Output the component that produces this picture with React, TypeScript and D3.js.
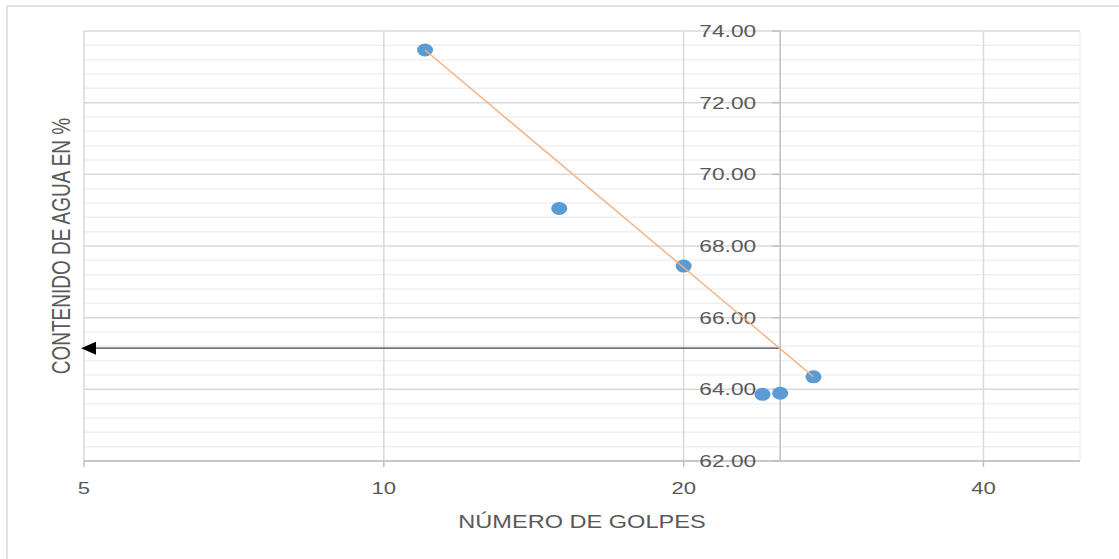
import * as d3 from "d3";

const golpes = [11, 15, 20, 24, 25, 27];
const humedad = [73.47, 69.05, 67.44, 63.86, 63.89, 64.35];
const trendX = [11, 27];
const trendY = [73.47, 64.35];
const xTicks = [5, 10, 20, 40];
const yMajor = [62, 64, 66, 68, 70, 72, 74];
const limiteGolpes = 25;
const limiteHumedad = 65.15;

const W = 1119;
const H = 559;
const TXT = "#595959";
const FONT = "'Liberation Sans', Arial, sans-serif";

export default function App() {
  const x = d3.scaleLog().domain([5, 50]).range([84, 1080]);
  const y = d3.scaleLinear().domain([62, 74]).range([461, 31]);

  const yMinor = d3.range(62, 74.001, 0.4).filter(
    (v) => !yMajor.some((m) => Math.abs(m - v) < 1e-6)
  );

  const pts = golpes.map((g, i) => ({ g, h: humedad[i] }));
  const trend = trendX.map((g, i) => ({ g, h: trendY[i] }));
  const line = d3
    .line<{ g: number; h: number }>()
    .x((d) => x(d.g))
    .y((d) => y(d.h));

  const [x0, x1] = x.range();
  const [yb, yt] = y.range();
  const ax = x(limiteGolpes);

  return (
    <svg
      width={W}
      height={H}
      style={{ position: "absolute", left: 0, top: 0, background: "#fff" }}
      fontFamily={FONT}
    >
      <rect x={7} y={6} width={1130} height={570} fill="#fff" stroke="#d9d9d9" strokeWidth={1.5} />

      {/* minor horizontal grid */}
      {yMinor.map((v) => (
        <line key={"mn" + v} x1={x0} x2={x1} y1={y(v)} y2={y(v)} stroke="#f0f0f0" strokeWidth={1.5} />
      ))}
      {/* major horizontal grid */}
      {yMajor.map((v) => (
        <line key={"mj" + v} x1={x0} x2={x1} y1={y(v)} y2={y(v)} stroke="#d9d9d9" strokeWidth={1.5} />
      ))}
      {/* vertical grid */}
      {xTicks.map((v) => (
        <line key={"vx" + v} x1={x(v)} x2={x(v)} y1={yt} y2={yb} stroke="#d9d9d9" strokeWidth={1.5} />
      ))}
      <line x1={x1} x2={x1} y1={yt} y2={yb} stroke="#f0f0f0" strokeWidth={1.5} />

      {/* x axis */}
      <line x1={x0} x2={x1} y1={yb} y2={yb} stroke="#bfbfbf" strokeWidth={1.5} />
      {xTicks.map((v) => (
        <g key={"xt" + v}>
          <line x1={x(v)} x2={x(v)} y1={yb} y2={yb + 6} stroke="#bfbfbf" strokeWidth={1.5} />
          <text
            transform={`translate(${x(v)},${yb + 33}) scale(1.38,1)`}
            textAnchor="middle"
            fontSize={16}
            fill={TXT}
          >
            {v}
          </text>
        </g>
      ))}

      {/* y axis crossing at x = 25 */}
      <line x1={ax} x2={ax} y1={yt} y2={yb} stroke="#bfbfbf" strokeWidth={1.5} />
      {yMajor.map((v) => (
        <g key={"yt" + v}>
          <line x1={ax - 8} x2={ax} y1={y(v)} y2={y(v)} stroke="#bfbfbf" strokeWidth={1.5} />
          <text
            transform={`translate(${ax - 24},${y(v) + 6}) scale(1.42,1)`}
            textAnchor="end"
            fontSize={16}
            fill={TXT}
          >
            {v.toFixed(2)}
          </text>
        </g>
      ))}

      {/* arrow */}
      <line x1={ax} x2={x0 + 12} y1={y(limiteHumedad)} y2={y(limiteHumedad)} stroke="#404040" strokeWidth={1.3} />
      <path
        d={`M${x0 - 3},${y(limiteHumedad)} L${x0 + 12},${y(limiteHumedad) - 6.5} L${x0 + 12},${y(limiteHumedad) + 6.5} Z`}
        fill="#000"
      />

      {/* points */}
      {pts.map((d, i) => (
        <ellipse key={"p" + i} cx={x(d.g)} cy={y(d.h)} rx={8} ry={6.5} fill="#5b9bd5" />
      ))}

      {/* trend line */}
      <path d={line(trend) ?? ""} fill="none" stroke="#f4b183" strokeWidth={1.4} />

      {/* axis titles */}
      <text
        transform={`translate(${(x0 + x1) / 2},${528}) scale(1.24,1)`}
        textAnchor="middle"
        fontSize={19}
        fill={TXT}
      >
        NÚMERO DE GOLPES
      </text>
      <text
        transform={`translate(70,${(yt + yb) / 2}) scale(1.35,1) rotate(-90)`}
        textAnchor="middle"
        fontSize={19}
        fill={TXT}
      >
        CONTENIDO DE AGUA EN %
      </text>
    </svg>
  );
}
